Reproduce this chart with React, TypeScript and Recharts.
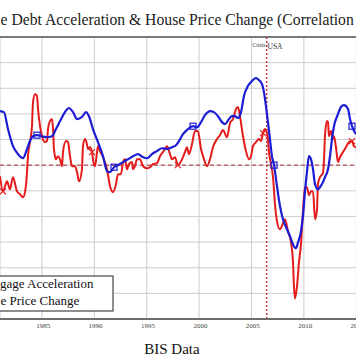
import React from 'react';
import { ComposedChart, Line, XAxis, YAxis, CartesianGrid, ReferenceLine } from 'recharts';

// ---- Data (y in chart units, 10 per gridline) ----
const blueYears = [
  1981.0, 1981.38, 1981.76, 1982.24, 1982.72, 1983.19, 1983.58, 1983.86, 1984.15, 1984.53,
  1985.01, 1985.48, 1985.96, 1986.34, 1986.73, 1987.2, 1987.58, 1987.97, 1988.35, 1988.82,
  1989.21, 1989.49, 1989.87, 1990.35, 1990.83, 1991.21, 1991.5, 1991.88, 1992.26, 1992.74,
  1993.21, 1993.69, 1994.17, 1994.65, 1995.03, 1995.5, 1995.98, 1996.46, 1996.94, 1997.41,
  1997.79, 1998.08, 1998.46, 1998.94, 1999.42, 1999.8, 2000.18, 2000.56, 2001.04, 2001.42,
  2001.8, 2002.18, 2002.47, 2002.85, 2003.14, 2003.42, 2003.71, 2004.0, 2004.28, 2004.66,
  2004.95, 2005.43, 2005.71, 2006.0, 2006.19, 2006.38, 2006.57, 2006.76, 2006.95, 2007.15,
  2007.43, 2007.72, 2008.0, 2008.39, 2008.67, 2008.96, 2009.24, 2009.44, 2009.72, 2009.91,
  2010.1, 2010.29, 2010.48, 2010.68, 2010.87, 2011.06, 2011.34, 2011.53, 2011.82, 2012.01,
  2012.3, 2012.49, 2012.68, 2012.87, 2013.25, 2013.54, 2013.82, 2014.21, 2014.4, 2014.59,
  2014.97,
];
const blueValues = [
  21.1, 20.7, 14.1, 7.4, 4.3, 2.7, 6.3, 9.4, 11.3, 11.7,
  11.3, 10.9, 11.3, 14.1, 17.2, 20.7, 22.3, 20.7, 18.0, 18.8,
  20.7, 19.1, 14.1, 9.0, 3.5, -2.3, -2.7, -0.8, 0, 1.2,
  2.3, 3.5, 4.3, 3.1, 2.7, 4.3, 5.5, 6.6, 6.3, 7.0,
  7.8, 9.4, 12.1, 14.1, 15.2, 14.8, 16.8, 19.5, 21.1, 20.7,
  19.1, 16.8, 16.0, 18.0, 19.1, 19.1, 18.4, 20.7, 27.0, 30.9,
  32.4, 34.0, 33.2, 31.6, 28.5, 23.0, 16.8, 10.2, 3.5, 0,
  -8.2, -16.0, -21.1, -25.0, -27.7, -30.9, -32.4, -30.1, -25.8, -19.9,
  -10.5, -2.7, 3.5, 2.3, -1.6, -7.4, -9.4, -8.6, -6.6, -4.7,
  -1.6, 3.5, 10.2, 15.2, 19.9, 22.7, 23.4, 21.9, 18.0, 15.2,
  12.1,
];
const redYears = [
  1981.0, 1981.29, 1981.67, 1981.95, 1982.24, 1982.62, 1982.91, 1983.19, 1983.39, 1983.58,
  1983.67, 1983.86, 1984.05, 1984.15, 1984.34, 1984.53, 1984.63, 1984.82, 1985.01, 1985.29,
  1985.48, 1985.58, 1985.77, 1985.96, 1986.06, 1986.15, 1986.34, 1986.53, 1986.73, 1986.92,
  1987.01, 1987.3, 1987.49, 1987.68, 1987.87, 1988.16, 1988.35, 1988.54, 1988.82, 1988.92,
  1989.11, 1989.3, 1989.4, 1989.59, 1989.78, 1989.87, 1990.06, 1990.26, 1990.35, 1990.54,
  1990.83, 1991.21, 1991.5, 1991.78, 1992.07, 1992.26, 1992.55, 1992.74, 1992.93, 1993.12,
  1993.31, 1993.6, 1993.69, 1993.88, 1994.07, 1994.36, 1994.65, 1995.03, 1995.31, 1995.6,
  1995.98, 1996.27, 1996.55, 1996.94, 1997.22, 1997.41, 1997.7, 1997.98, 1998.37, 1998.65,
  1998.84, 1999.03, 1999.32, 1999.61, 1999.89, 2000.18, 2000.47, 2000.75, 2001.04, 2001.32,
  2001.71, 2001.99, 2002.28, 2002.66, 2002.95, 2003.23, 2003.52, 2003.71, 2003.9, 2004.19,
  2004.47, 2004.76, 2004.95, 2005.14, 2005.43, 2005.71, 2005.9, 2006.1, 2006.29, 2006.48,
  2006.57, 2006.67, 2006.86, 2007.05, 2007.24, 2007.43, 2007.72, 2008.0, 2008.2, 2008.48,
  2008.77, 2008.96, 2009.05, 2009.15, 2009.34, 2009.53, 2009.72, 2009.91, 2010.1, 2010.29,
  2010.48, 2010.68, 2010.87, 2011.06, 2011.25, 2011.34, 2011.53, 2011.82, 2011.92, 2012.01,
  2012.2, 2012.3, 2012.39, 2012.58, 2012.77, 2012.87, 2013.06, 2013.25, 2013.44, 2013.73,
  2014.01, 2014.3, 2014.59, 2014.78, 2014.97,
];
const redValues = [
  -4.3, -10.2, -6.3, -9.4, -4.7, -10.2, -11.3, -12.5, -10.5, -2.7,
  3.5, 9.0, 15.2, 24.6, 27.7, 27.0, 21.9, 15.2, 11.3, 9.0,
  9.4, 14.1, 17.2, 18.0, 14.1, 6.3, 2.3, 3.5, 2.3, -0.4,
  5.1, 9.4, 9.0, 3.5, -0.4, -0.4, -2.7, -6.3, -1.6, 7.4,
  10.2, 8.2, 6.3, 7.0, 5.1, 2.3, -0.4, 5.1, 7.4, 5.5,
  3.1, -1.6, -8.2, -10.5, -7.4, -3.5, -3.5, 1.2, 2.3, -1.6,
  0.4, 1.2, -1.6, -0.4, 2.3, 2.3, -0.4, -1.2, -0.8, 0.4,
  0.8, 3.5, 5.1, 7.4, 4.3, 2.3, 3.1, 0, 2.3, 5.1,
  7.0, 4.3, 8.2, 13.3, 13.3, 6.3, 2.3, -0.4, 2.3, 7.0,
  10.2, 11.7, 13.7, 10.9, 16.4, 18.0, 21.9, 22.7, 19.1, 11.3,
  5.5, 2.3, 3.5, 7.4, 9.0, 10.2, 9.4, 12.5, 14.1, 12.5,
  10.2, 5.1, 0.4, -4.7, -15.2, -21.9, -25.0, -22.7, -21.1, -25.8,
  -30.1, -37.9, -47.3, -52.0, -47.3, -37.9, -30.9, -18.0, -8.6, -8.6,
  -11.7, -10.2, -10.2, -21.1, -17.2, -7.4, -4.7, -3.1, 2.3, 11.3,
  17.2, 16.8, 11.3, 13.3, 10.2, 11.3, 7.0, 1.2, 3.1, 5.1,
  7.0, 9.0, 9.4, 7.4, 7.0,
];
const blueMarkerYears = [1984.53, 1991.88, 1999.42, 2007.15, 2014.59];
const redMarkerYears = [1981.29, 1989.78, 1997.98, 2006.1, 2014.59];
const xTicks = [1985, 1990, 1995, 2000, 2005, 2010, 2015];
const yTicks = [-60, -50, -40, -30, -20, -10, 0, 10, 20, 30, 40, 50];
const crisisYear = 2006.45;
const seriesLabels = ['gage Acceleration', 'e Price Change'];
const titleText = 'e Debt Acceleration & House Price Change (Correlation';
const sourceText = 'BIS Data';
const crisisLabel = 'Crisis';
const countryLabel = 'USA';

const blueData = blueYears.map((year, i) => ({ year, value: blueValues[i] }));
const redData = redYears.map((year, i) => ({ year, value: redValues[i] }));

const BLUE = '#1c1cd4';
const RED = '#e41c1c';
const SERIF = "'Liberation Serif', 'Times New Roman', serif";

const BlueDot = (props: any) => {
  const { cx, cy, payload, index } = props;
  if (!blueMarkerYears.includes(payload.year)) return <g key={`bd${index}`} />;
  return (
    <rect key={`bd${index}`} x={cx - 3} y={cy - 3} width={6} height={6} fill="none" stroke={BLUE} strokeWidth={1.2} />
  );
};

const RedDot = (props: any) => {
  const { cx, cy, payload, index } = props;
  if (!redMarkerYears.includes(payload.year)) return <g key={`rd${index}`} />;
  return (
    <path key={`rd${index}`} d={`M${cx - 3},${cy - 3}L${cx + 3},${cy + 3}M${cx - 3},${cy + 3}L${cx + 3},${cy - 3}`} stroke={RED} strokeWidth={1.2} />
  );
};

const YearTick = (props: any) => {
  const { x, payload } = props;
  return (
    <text x={x + 1.3} y={327.5} textAnchor="middle" fontSize={7} fill="#444" fontFamily={SERIF}>
      {payload.value}
    </text>
  );
};

export default function App() {
  return (
    <div style={{ position: 'absolute', left: 0, top: 0, width: 356, height: 364, overflow: 'hidden', background: '#fff' }}>
      <ComposedChart width={400} height={364} margin={{ top: 37, right: 0, bottom: 0, left: 0 }}>
        <CartesianGrid stroke="#cdcdcd" strokeWidth={1} />
        <XAxis
          type="number"
          dataKey="year"
          domain={[1981, 2019.17]}
          ticks={xTicks}
          interval={0}
          allowDataOverflow
          height={45}
          tickLine={false}
          tickSize={0}
          axisLine={{ stroke: '#6e6e6e', strokeWidth: 2 }}
          tick={<YearTick />}
        />
        <YAxis hide type="number" domain={[-60, 50]} ticks={yTicks} allowDataOverflow width={0} />
        <ReferenceLine y={50} stroke="#7a7a7a" strokeWidth={2} />
        <ReferenceLine y={0} stroke="#b02a2a" strokeWidth={1} strokeDasharray="4 3" />
        <ReferenceLine x={crisisYear} stroke="#c03a3a" strokeWidth={1.5} strokeDasharray="2 2" />
        <Line
          data={redData}
          dataKey="value"
          type="monotone"
          stroke={RED}
          strokeWidth={2}
          dot={RedDot}
          activeDot={false}
          isAnimationActive={false}
          name="House Price Change"
        />
        <Line
          data={blueData}
          dataKey="value"
          type="monotone"
          stroke={BLUE}
          strokeWidth={2.2}
          dot={BlueDot}
          activeDot={false}
          isAnimationActive={false}
          name="Mortgage Acceleration"
        />
        <text x={0.5} y={25} fontSize={15.7} fill="#222" fontFamily={SERIF}>{titleText}</text>
        <text x={252.5} y={47} fontSize={5.5} fill="#333" fontFamily={SERIF}>{crisisLabel}</text>
        <text x={267.5} y={49} fontSize={7.5} fill="#333" fontFamily={SERIF}>{countryLabel}</text>
        <text x={172} y={354} textAnchor="middle" fontSize={15} fill="#111" fontFamily={SERIF}>{sourceText}</text>
        <g>
          <rect x={-80} y={276} width={193} height={35} fill="#fff" stroke="#444" strokeWidth={1.2} />
          <text x={0} y={288} fontSize={13} fill="#111" fontFamily={SERIF}>{seriesLabels[0]}</text>
          <text x={0.5} y={305} fontSize={13} fill="#111" fontFamily={SERIF}>{seriesLabels[1]}</text>
        </g>
      </ComposedChart>
    </div>
  );
}
